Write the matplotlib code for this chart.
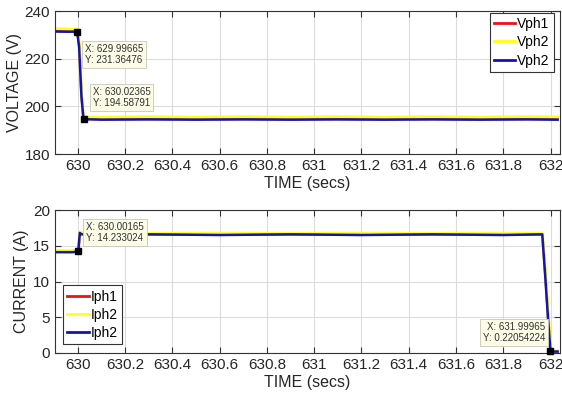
import matplotlib
matplotlib.use("Agg")
import matplotlib.pyplot as plt

# ---- data ----
t_v = [629.905, 629.96, 629.99665, 630.005, 630.015, 630.02365, 630.1, 630.3, 630.5, 630.7, 630.9, 631.1, 631.3, 631.5, 631.7, 631.9, 632.03]
vph1 = [231.6, 231.5, 231.4, 226.0, 205.0, 194.9, 195.0, 194.9, 195.0, 194.9, 195.0, 194.9, 195.0, 194.9, 195.0, 194.9, 195.0]
vph2 = [232.6, 232.4, 232.3, 227.0, 206.0, 195.6, 195.4, 195.6, 195.4, 195.6, 195.4, 195.6, 195.4, 195.6, 195.4, 195.6, 195.5]
vph3 = [231.4, 231.3, 231.36476, 225.0, 204.0, 194.58791, 194.4, 194.5, 194.4, 194.5, 194.4, 194.5, 194.4, 194.5, 194.4, 194.5, 194.4]

t_i = [629.905, 629.98, 630.00165, 630.008, 630.015, 630.05, 630.3, 630.6, 630.9, 631.2, 631.5, 631.8, 631.965, 631.978, 631.99, 631.99965, 632.03]
iph1 = [14.2, 14.2, 14.3, 16.8, 16.7, 16.6, 16.6, 16.6, 16.6, 16.6, 16.6, 16.6, 16.6, 11.0, 5.0, 0.3, 0.2]
iph2 = [14.3, 14.3, 14.3, 16.9, 16.8, 16.7, 16.7, 16.7, 16.7, 16.7, 16.7, 16.7, 16.7, 11.5, 5.5, 0.3, 0.3]
iph3 = [14.1, 14.1, 14.233024, 16.8, 16.6, 16.5, 16.6, 16.5, 16.6, 16.5, 16.6, 16.5, 16.6, 10.5, 4.5, 0.22054224, 0.2]

v_tips = [(629.99665, 231.36476), (630.02365, 194.58791)]
i_tips = [(630.00165, 14.233024), (631.99965, 0.22054224)]

xticks = [630, 630.2, 630.4, 630.6, 630.8, 631, 631.2, 631.4, 631.6, 631.8, 632]
xticklabels = ["630", "630.2", "630.4", "630.6", "630.8", "631", "631.2", "631.4", "631.6", "631.8", "632"]

plt.rcParams['font.family'] = ['Liberation Sans', 'DejaVu Sans']

fig = plt.figure(figsize=(5.62, 4.0), dpi=100)
W, H = 562, 400
ax1 = fig.add_axes([55 / W, 1 - 154 / H, 505 / W, 143 / H])
ax2 = fig.add_axes([55 / W, 1 - 353 / H, 505 / W, 143 / H])

red = '#e8141c'
yellow = '#ffff1a'
blue = '#1414b4'

ax1.plot(t_v, vph1, color=red, lw=1.8, label='Vph1')
ax1.plot(t_v, vph2, color=yellow, lw=2.2, label='Vph2')
ax1.plot(t_v, vph3, color=blue, lw=1.8, label='Vph2')
ax2.plot(t_i, iph1, color=red, lw=1.8, label='Iph1')
ax2.plot(t_i, iph2, color=yellow, lw=2.2, label='Iph2')
ax2.plot(t_i, iph3, color=blue, lw=1.8, label='Iph2')

for ax in (ax1, ax2):
    ax.set_xlim(629.903, 632.04)
    ax.set_xticks(xticks)
    ax.set_xticklabels(xticklabels)
    ax.grid(True, color='#dcdcdc', lw=0.8)
    ax.set_axisbelow(True)
    ax.tick_params(direction='in', labelsize=11, length=4, color='#333333', labelcolor='#262626',
                   top=True, right=True)
    for s in ax.spines.values():
        s.set_color('#333333')
        s.set_linewidth(0.8)
    ax.set_xlabel('TIME (secs)', fontsize=11.5, color='#262626', labelpad=2)

ax1.set_ylim(180, 240)
ax1.set_yticks([180, 200, 220, 240])
ax1.set_ylabel('VOLTAGE (V)', fontsize=11.5, color='#262626', labelpad=2)
ax2.set_ylim(0, 20)
ax2.set_yticks([0, 5, 10, 15, 20])
ax2.set_ylabel('CURRENT (A)', fontsize=11.5, color='#262626', labelpad=3)

leg_kw = dict(fontsize=10, frameon=True, fancybox=False, edgecolor='#333333', framealpha=1,
              handlelength=1.55, handletextpad=0.15, borderpad=0.3, labelspacing=0.3, borderaxespad=0.0)
l1 = ax1.legend(loc='upper right', bbox_to_anchor=(1 - 6 / 505, 1 - 2 / 143), **leg_kw)
l2 = ax2.legend(loc='lower left', bbox_to_anchor=(8 / 505, 9 / 143), **leg_kw)
for l in (l1, l2):
    l.get_frame().set_linewidth(0.8)
    for ln in l.get_lines():
        ln.set_linewidth(2)

tip_kw = dict(textcoords='offset pixels', fontsize=7, color='#333333',
              bbox=dict(boxstyle='square,pad=0.3', fc='#fbfbe6', ec='#c8c8b4', lw=0.6), zorder=10)

def tip(ax, x, y, dx, dy, ha, va):
    ax.plot([x], [y], 's', color='black', ms=5, zorder=11, clip_on=False)
    ax.annotate(f"X: {x}\nY: {y}", (x, y), xytext=(dx, dy), ha=ha, va=va, **tip_kw)

tip(ax1, v_tips[0][0], v_tips[0][1], 8, -12, 'left', 'top')
tip(ax1, v_tips[1][0], v_tips[1][1], 9, 11, 'left', 'bottom')
tip(ax2, i_tips[0][0], i_tips[0][1], 8, 8, 'left', 'bottom')
tip(ax2, i_tips[1][0], i_tips[1][1], -5, 8, 'right', 'bottom')

fig.savefig('out.png', dpi=100)
